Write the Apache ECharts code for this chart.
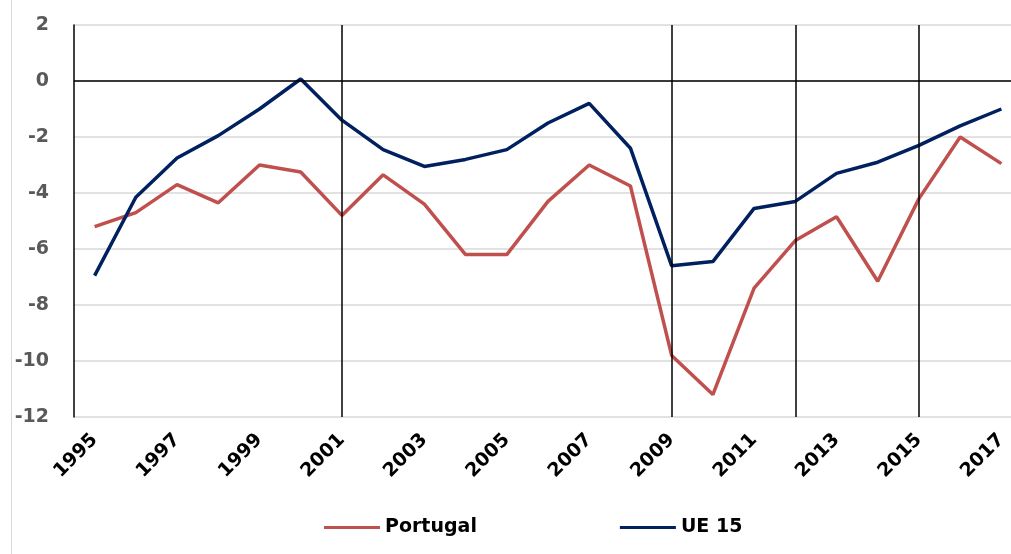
<!DOCTYPE html>
<html>
<head>
<meta charset="utf-8">
<script src="https://cdn.jsdelivr.net/npm/echarts@6/dist/echarts.min.js"></script>
<style>
    html, body { margin: 0; padding: 0; background: #fff; overflow: hidden; }
    /* wider than the window: the plot runs past the right edge in the original */
    #chart { width: 1030px; height: 554px; }
</style>
</head>
<body>
<div id="chart"></div>
<script>
// years on the category axis
const years = ['1995','1996','1997','1998','1999','2000','2001','2002','2003','2004','2005','2006',
    '2007','2008','2009','2010','2011','2012','2013','2014','2015','2016','2017']

const portugal = [-5.2, -4.7, -3.7, -4.35, -3.0, -3.25, -4.8, -3.35, -4.4, -6.2, -6.2, -4.3,
    -3.0, -3.75, -9.8, -11.2, -7.4, -5.7, -4.85, -7.15, -4.2, -2.0, -2.95]

const ue15 = [-6.95, -4.15, -2.75, -1.95, -1.0, 0.07, -1.4, -2.45, -3.05, -2.8, -2.45, -1.5,
    -0.8, -2.4, -6.6, -6.45, -4.55, -4.3, -3.3, -2.9, -2.3, -1.6, -1.0]

// vertical reference years
const markYears = ['2001', '2009', '2012', '2015']

const chart = echarts.init(document.getElementById('chart'))

const font = '"DejaVu Sans", "Open Sans", sans-serif'

chart.setOption({
    animation: false,
    textStyle: { fontFamily: font },
    graphic: [{
        type: 'line',
        shape: { x1: 11.5, y1: 0, x2: 11.5, y2: 554 },
        style: { stroke: '#d9d9d9', lineWidth: 1 }
    }],
    grid: { left: 74, top: 25, width: 948, height: 392 },
    legend: {
        left: 319,
        top: 513,
        itemWidth: 56,
        itemHeight: 3,
        itemGap: 143,
        icon: 'rect',
        textStyle: { fontWeight: 'bold', fontSize: 19, color: '#000', fontFamily: font },
        data: ['Portugal', 'UE 15']
    },
    xAxis: {
        type: 'category',
        data: years,
        boundaryGap: true,
        axisLine: { show: false },
        axisTick: { show: false },
        axisLabel: {
            interval: 1,
            rotate: 45,
            margin: 20,
            fontWeight: 'bold',
            fontSize: 19,
            color: '#000'
        }
    },
    yAxis: {
        type: 'value',
        min: -12,
        max: 2,
        interval: 2,
        axisLine: { show: true, lineStyle: { color: '#000', width: 1.5 } },
        axisTick: { show: false },
        splitLine: { lineStyle: { color: '#d9d9d9', width: 1.5 } },
        axisLabel: {
            margin: 25,
            fontWeight: 'bold',
            fontSize: 19,
            color: '#595959'
        }
    },
    series: [
        {
            name: 'Portugal',
            type: 'line',
            data: portugal,
            symbol: 'none',
            itemStyle: { color: '#C0504D' },
            lineStyle: { color: '#C0504D', width: 3.5 },
            z: 3
        },
        {
            name: 'UE 15',
            type: 'line',
            data: ue15,
            symbol: 'none',
            itemStyle: { color: '#002060' },
            lineStyle: { color: '#002060', width: 3.5 },
            z: 4,
            markLine: {
                silent: true,
                symbol: 'none',
                label: { show: false },
                lineStyle: { color: '#000', width: 1.5, type: 'solid' },
                data: [{ yAxis: 0 }].concat(markYears.map(y => ({ xAxis: y })))
            }
        }
    ]
})
</script>
</body>
</html>
